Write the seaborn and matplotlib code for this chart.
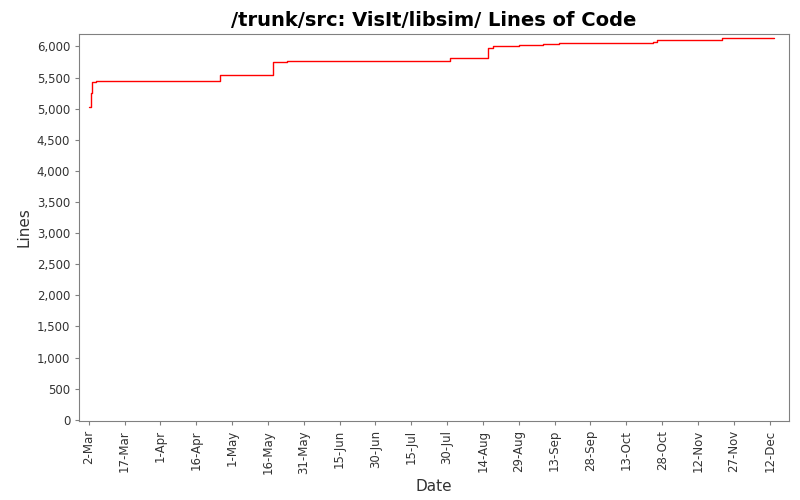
import pandas as pd
import matplotlib.pyplot as plt
import matplotlib.dates as mdates
from matplotlib.ticker import FuncFormatter
import seaborn as sns

# days after 2-Mar and line counts
day_offsets = [0, 1, 1.5, 3, 55, 77, 83, 90, 151, 167, 169, 174, 180, 190, 197, 203, 236, 238, 265, 287]
line_counts = [5020, 5250, 5430, 5440, 5540, 5750, 5760, 5770, 5810, 5980, 6000, 6010, 6020, 6040, 6060, 6050, 6070, 6100, 6130, 6130]

start = pd.Timestamp("2008-03-02")
data = pd.DataFrame({
    "Date": [start + pd.Timedelta(days=d) for d in day_offsets],
    "Lines": line_counts,
})

sns.set_style("white")
plt.rcParams['font.family'] = ['DejaVu Sans']

fig, ax = plt.subplots(figsize=(8, 5), dpi=100)
sns.lineplot(data=data, x="Date", y="Lines", drawstyle="steps-post", color="red", linewidth=1, ax=ax)

ax.set_ylim(-20, 6200)
ax.set_yticks(range(0, 6001, 500))
ax.yaxis.set_major_formatter(FuncFormatter(lambda v, p: f"{int(v):,}"))
ax.set_xlim(start - pd.Timedelta(days=4), start + pd.Timedelta(days=293))
ticks = [start + pd.Timedelta(days=15 * i) for i in range(20)]
ax.set_xticks(ticks)
ax.xaxis.set_major_formatter(mdates.DateFormatter("%-d-%b"))
plt.setp(ax.get_xticklabels(), rotation=90, fontsize=8.5, color="#333333")
plt.setp(ax.get_yticklabels(), fontsize=8.5, color="#333333")
ax.tick_params(axis="both", length=3, color="gray", left=True, bottom=True)
for s in ax.spines.values():
    s.set_color("gray")
ax.set_xlabel("Date", fontsize=11, color="#333333")
ax.set_ylabel("Lines", fontsize=11, color="#333333")
ax.set_title("/trunk/src: VisIt/libsim/ Lines of Code", fontsize=14, fontweight="bold", color="black")

plt.subplots_adjust(left=0.099, right=0.986, top=0.932, bottom=0.158)
plt.savefig("out.png")
